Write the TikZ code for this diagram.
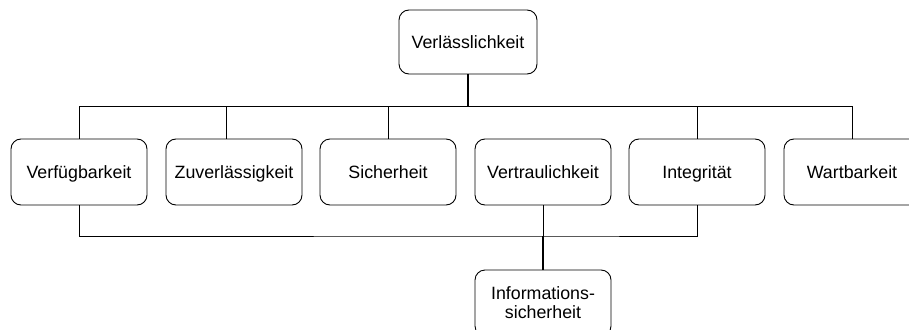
\documentclass[tikz,border=0pt]{standalone}
\usepackage{fontspec}
\setmainfont{Liberation Sans}

\begin{document}
\begin{tikzpicture}[x=1pt,y=-1pt,
		box/.style={draw,line width=0.9pt,rounded corners=10pt,minimum width=136pt,minimum height=66pt,inner sep=2pt,align=center,font=\fontsize{17.8}{19}\selectfont},
		line/.style={box,text height=12.7pt,text depth=0pt},
		link/.style={line width=1pt},
		stem/.style={line width=2pt}]
				\useasboundingbox (0,0) rectangle (909,329);

				\node[line,minimum width=138pt,minimum height=64pt] (verl) at (468,42) {Verlässlichkeit};
				\node[line] (verf) at (79,172) {Verfügbarkeit};
				\node[line] (zuv) at (234,172) {Zuverlässigkeit};
				\node[line] (sich) at (388,172) {Sicherheit};
				\node[line] (vertr) at (543,172) {Vertraulichkeit};
				\node[line] (integ) at (697,172) {Integrität};
				\node[line] (wart) at (852,172) {Wartbarkeit};
				\node[box] (info) at (543,303) {Informations-\\sicherheit};

				\coordinate (upper) at (468,106);
				\coordinate (lower) at (543,236);

				\draw [stem](verl) -- (upper);
				\draw [link](verf) |- (upper) -| (wart);
				\draw [link]([xshift=-8pt]zuv.north) |- (upper);
				\draw [link](sich) |- (upper);
				\draw [link](integ) |- (upper);
				\draw [link](verf) |- (lower) -| (integ);
				\draw [link](vertr) -- (lower);
				\draw [stem](lower) -- (info);
			\end{tikzpicture}
\end{document}
